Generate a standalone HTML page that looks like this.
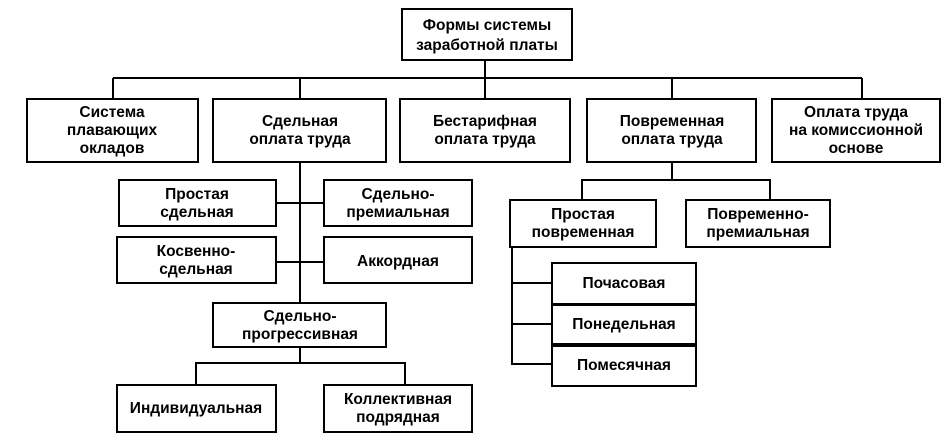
<!DOCTYPE html>
<html><head><meta charset="utf-8"><style>
html,body{margin:0;padding:0;background:#fff;width:949px;height:444px;overflow:hidden}
text{font-family:"Liberation Sans",Arial,sans-serif;font-size:15.5px;font-weight:bold;fill:#000;text-anchor:middle}
rect{fill:#fff;stroke:#000;stroke-width:2}
line,polyline{stroke:#000;stroke-width:2;fill:none}
</style></head><body>
<svg width="949" height="444" xmlns="http://www.w3.org/2000/svg">
<line x1="485" y1="60" x2="485" y2="78"/>
<line x1="113" y1="78" x2="862" y2="78"/>
<line x1="113" y1="78" x2="113" y2="99"/>
<line x1="300" y1="78" x2="300" y2="99"/>
<line x1="485" y1="78" x2="485" y2="99"/>
<line x1="672" y1="78" x2="672" y2="99"/>
<line x1="862" y1="78" x2="862" y2="99"/>
<line x1="300" y1="162" x2="300" y2="303"/>
<line x1="276" y1="203" x2="324" y2="203"/>
<line x1="276" y1="262" x2="324" y2="262"/>
<line x1="300" y1="347" x2="300" y2="363"/>
<polyline points="196,385 196,363 405,363 405,385"/>
<line x1="672" y1="162" x2="672" y2="180"/>
<polyline points="582,200 582,180 770,180 770,200"/>
<polyline points="512,247 512,364 552,364"/>
<line x1="512" y1="283" x2="552" y2="283"/>
<line x1="512" y1="324" x2="552" y2="324"/>

<rect x="402" y="9" width="170" height="51"/>
<text x="487" y="30">Формы системы</text><text x="487" y="50">заработной платы</text>

<rect x="27" y="99" width="171" height="63"/>
<text x="112" y="117">Система</text><text x="112" y="135">плавающих</text><text x="112" y="153">окладов</text>
<rect x="213" y="99" width="173" height="63"/>
<text x="300" y="126">Сдельная</text><text x="300" y="144">оплата труда</text>
<rect x="400" y="99" width="170" height="63"/>
<text x="485" y="126">Бестарифная</text><text x="485" y="144">оплата труда</text>
<rect x="587" y="99" width="169" height="63"/>
<text x="672" y="126">Повременная</text><text x="672" y="144">оплата труда</text>
<rect x="772" y="99" width="168" height="63"/>
<text x="856" y="117">Оплата труда</text><text x="856" y="135">на комиссионной</text><text x="856" y="153">основе</text>

<rect x="119" y="180" width="157" height="46"/>
<text x="197" y="199">Простая</text><text x="197" y="217">сдельная</text>
<rect x="324" y="180" width="148" height="46"/>
<text x="398" y="199">Сдельно-</text><text x="398" y="217">премиальная</text>
<rect x="117" y="237" width="159" height="46"/>
<text x="196" y="256">Косвенно-</text><text x="196" y="274">сдельная</text>
<rect x="324" y="237" width="148" height="46"/>
<text x="398" y="266">Аккордная</text>
<rect x="213" y="303" width="173" height="44"/>
<text x="300" y="321">Сдельно-</text><text x="300" y="339">прогрессивная</text>
<rect x="117" y="385" width="159" height="47"/>
<text x="196" y="413">Индивидуальная</text>
<rect x="324" y="385" width="148" height="47"/>
<text x="398" y="404">Коллективная</text><text x="398" y="422">подрядная</text>

<rect x="510" y="200" width="146" height="47"/>
<text x="583" y="219">Простая</text><text x="583" y="237">повременная</text>
<rect x="686" y="200" width="144" height="47"/>
<text x="758" y="219">Повременно-</text><text x="758" y="237">премиальная</text>
<rect x="552" y="263" width="144" height="41"/>
<text x="624" y="288">Почасовая</text>
<rect x="552" y="305" width="144" height="39"/>
<text x="624" y="329">Понедельная</text>
<rect x="552" y="346" width="144" height="40"/>
<text x="624" y="370">Помесячная</text>
</svg>
</body></html>
